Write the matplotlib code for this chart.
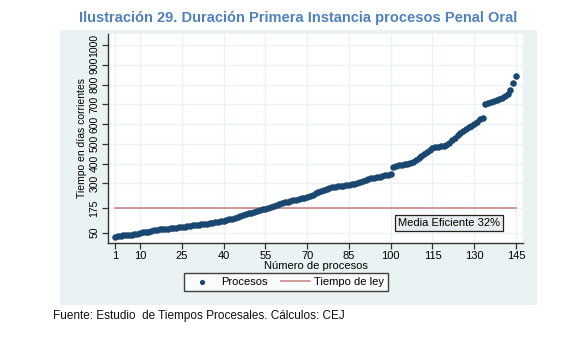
import numpy as np
import matplotlib
matplotlib.use("Agg")
import matplotlib.pyplot as plt
from matplotlib.patches import Rectangle

plt.rcParams['font.family'] = ['Liberation Sans', 'DejaVu Sans']

# duración (días corrientes) de cada proceso, ordenada de menor a mayor
duracion = [28, 33, 35, 37, 38, 39, 40, 42, 46,
            50, 52, 53, 54, 58, 64,
            66, 67, 68, 70, 71, 72, 73, 75, 77, 79,
            81, 83, 85, 87, 89, 91, 93, 95,
            96, 98, 100, 102, 105, 108, 111,
            114, 117, 120, 124, 130, 135, 140,
            145, 148, 152, 156, 160, 164, 168, 172,
            176, 180, 184, 188, 194, 200, 205,
            208, 211, 214, 217, 220, 224, 228, 232,
            238, 243, 249, 254, 259, 264, 269, 274, 279,
            282, 285, 287, 289, 291, 293, 296, 299, 303,
            308, 313, 317, 321, 325, 328, 331, 334, 337, 340, 343, 346,
            385, 388, 391, 394, 397, 400, 404, 409, 418, 428,
            440, 450, 460, 470, 477, 482, 485, 488, 491, 495,
            505, 520, 532, 545, 556, 566, 575, 583, 592, 600, 612, 624, 630,
            702, 708, 713, 718, 722, 726, 732, 740, 752, 772, 810, 845]
procesos = np.arange(1, len(duracion) + 1)
tiempo_ley = 175

xticks = [1, 10, 25, 40, 55, 70, 85, 100, 115, 130, 145]
yticks = [50, 175, 300, 400, 500, 600, 700, 800, 900, 1000]

W, H = 577, 338
fig = plt.figure(figsize=(W / 100, H / 100), dpi=100)
fig.patch.set_facecolor('white')

# panel de fondo estilo Stata
fig.patches.append(Rectangle((60 / W, 1 - 305 / H), 477 / W, 275 / H,
                             transform=fig.transFigure, facecolor='#eaf2f3',
                             edgecolor='none', zorder=-5))

ax = fig.add_axes([108 / W, 1 - 243 / H, 415 / W, 209 / H])
ax.set_facecolor('white')

ax.scatter(procesos, duracion, s=22, color='#1a476f', zorder=3,
           label='Procesos', linewidths=0)
ax.plot([1, 145], [tiempo_ley, tiempo_ley], color='#c47e7e', lw=1.1,
        zorder=2, label='Tiempo de ley')

ax.set_xlim(-1.5, 147.5)
ax.set_ylim(-2, 1056)
ax.set_xticks(xticks)
ax.set_yticks(yticks)
ax.set_yticklabels([str(t) for t in yticks], rotation=90, va='center')
ax.tick_params(axis='both', labelsize=7.5, length=4, width=0.9,
               color='#333333', pad=2)
ax.tick_params(axis='x', labelsize=8)
ax.grid(True, color='#eaf2f3', lw=1.0, zorder=0)
ax.set_axisbelow(True)
for s in ['top', 'right']:
    ax.spines[s].set_visible(False)
for s in ['left', 'bottom']:
    ax.spines[s].set_color('#333333')
    ax.spines[s].set_linewidth(1.0)

ax.set_xlabel('Número de procesos', fontsize=8, labelpad=0)
ax.set_ylabel('Tiempo en días corrientes', fontsize=7.5, labelpad=2)

ax.text(121, 99, 'Media Eficiente 32%', fontsize=8, ha='center', va='center',
        bbox=dict(boxstyle='square,pad=0.25', facecolor='#e8ecee',
                  edgecolor='#222222', lw=0.9), zorder=4)

leg = fig.legend(loc='center', bbox_to_anchor=(286 / W, 1 - 282 / H),
                 ncol=2, fontsize=8, frameon=True, fancybox=False,
                 handlelength=2.6, columnspacing=1.2, borderpad=0.35,
                 handletextpad=0.4, markerscale=0.8)
leg.get_frame().set_edgecolor('#111111')
leg.get_frame().set_linewidth(1.0)

fig.text(298 / W, 1 - 18 / H,
         'Ilustración 29. Duración Primera Instancia procesos Penal Oral',
         ha='center', va='center', fontsize=10.5, fontweight='bold',
         color='#4f81bd')
fig.text(53 / W, 1 - 316 / H,
         'Fuente: Estudio  de Tiempos Procesales. Cálculos: CEJ',
         ha='left', va='center', fontsize=8.5, color='#111111')

fig.savefig('out.png', dpi=100, facecolor='white')
